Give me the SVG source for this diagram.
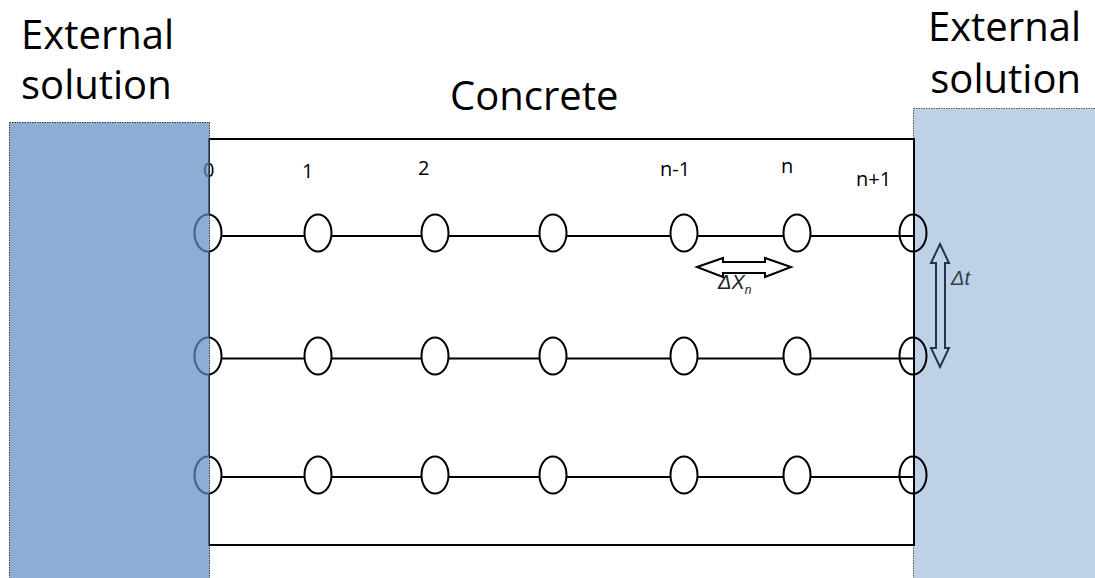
<svg xmlns="http://www.w3.org/2000/svg" width="1095" height="578" viewBox="0 0 1095 578">
<style>
.big{font-family:"Open Sans","Liberation Sans",sans-serif;font-size:40px;fill:#000}
.lbl{font-family:"Open Sans","Liberation Sans",sans-serif;font-size:20px;fill:#000}
.node{fill:#fff;stroke:#000;stroke-width:2}
.edge{fill:none;stroke:#000;stroke-width:2}
.conn{stroke:#000;stroke-width:2;fill:none}
.sym{font-family:"Liberation Sans",sans-serif;font-style:italic}
</style>
<rect width="1095" height="578" fill="#fff"/>
<g id="right-solution">
<rect x="913.5" y="108.5" width="182" height="472" fill="#bfd1e6" stroke="#555" stroke-width="1" stroke-dasharray="1.5,1"/>
</g>
<g id="concrete">
<rect x="209" y="139" width="705" height="406" fill="#fff" stroke="#000" stroke-width="2"/>
</g>
<g id="connectors">
<line class="conn" x1="208" y1="236" x2="913" y2="236"/>
<line class="conn" x1="208" y1="358.5" x2="913" y2="358.5"/>
<line class="conn" x1="208" y1="477" x2="913" y2="477"/>
</g>
<g id="nodes">
<g id="row1">
<ellipse class="node" cx="208" cy="233" rx="13.5" ry="18.5"/>
<ellipse class="node" cx="318" cy="233" rx="13.5" ry="18.5"/>
<ellipse class="node" cx="435" cy="233" rx="13.5" ry="18.5"/>
<ellipse class="node" cx="553" cy="233" rx="13.5" ry="18.5"/>
<ellipse class="node" cx="684" cy="233" rx="13.5" ry="18.5"/>
<ellipse class="node" cx="797" cy="233" rx="13.5" ry="18.5"/>
<ellipse class="edge" cx="913" cy="233" rx="13.5" ry="18.5"/>
</g>
<g id="row2">
<ellipse class="node" cx="208" cy="356" rx="13.5" ry="18.5"/>
<ellipse class="node" cx="318" cy="356" rx="13.5" ry="18.5"/>
<ellipse class="node" cx="435" cy="356" rx="13.5" ry="18.5"/>
<ellipse class="node" cx="553" cy="356" rx="13.5" ry="18.5"/>
<ellipse class="node" cx="684" cy="356" rx="13.5" ry="18.5"/>
<ellipse class="node" cx="797" cy="356" rx="13.5" ry="18.5"/>
<ellipse class="edge" cx="913" cy="356" rx="13.5" ry="18.5"/>
</g>
<g id="row3">
<ellipse class="node" cx="208" cy="475" rx="13.5" ry="18.5"/>
<ellipse class="node" cx="318" cy="475" rx="13.5" ry="18.5"/>
<ellipse class="node" cx="435" cy="475" rx="13.5" ry="18.5"/>
<ellipse class="node" cx="553" cy="475" rx="13.5" ry="18.5"/>
<ellipse class="node" cx="684" cy="475" rx="13.5" ry="18.5"/>
<ellipse class="node" cx="797" cy="475" rx="13.5" ry="18.5"/>
<ellipse class="edge" cx="913" cy="475" rx="13.5" ry="18.5"/>
</g>
</g>
<line x1="914" y1="139" x2="914" y2="545" stroke="#000" stroke-width="2"/>
<g id="labels">
<text class="lbl" x="203" y="177">0</text>
<text class="lbl" x="302" y="178">1</text>
<text class="lbl" x="418" y="175">2</text>
<text class="lbl" x="660" y="176">n-1</text>
<text class="lbl" x="781" y="173">n</text>
<text class="lbl" x="856" y="186">n+1</text>
</g>
<g id="dx-arrow">
<path d="M697,267 L723,258 L723,262 L765,262 L765,258 L791,267 L765,277 L765,273 L723,273 L723,277 Z" fill="#fff" stroke="#000" stroke-width="2"/>
<text class="sym" x="718" y="289" font-size="20" fill="#222">ΔX<tspan font-size="12" dy="5">n</tspan></text>
</g>
<g id="dt-arrow">
<path d="M940,244 L949,263 L945,263 L945,348 L949,348 L940,367 L931,348 L936,348 L936,263 L931,263 Z" fill="none" stroke="#1f3550" stroke-width="2"/>
<text class="sym" x="951" y="285" font-size="20" fill="#333f50">Δt</text>
</g>
<g id="left-solution">
<rect x="9.5" y="122.5" width="200" height="458" fill="#5e8ac2" fill-opacity="0.7" stroke="#333" stroke-width="1" stroke-dasharray="1.5,1"/>
</g>
<g id="titles">
<text class="big"><tspan x="21" y="49">External</tspan><tspan x="21" y="99">solution</tspan></text>
<text class="big" x="450" y="110">Concrete</text>
<text class="big" x="1081" y="41" text-anchor="end" font-size="38">External</text>
<text class="big" x="1081" y="93" text-anchor="end" font-size="38">solution</text>
</g>
</svg>
